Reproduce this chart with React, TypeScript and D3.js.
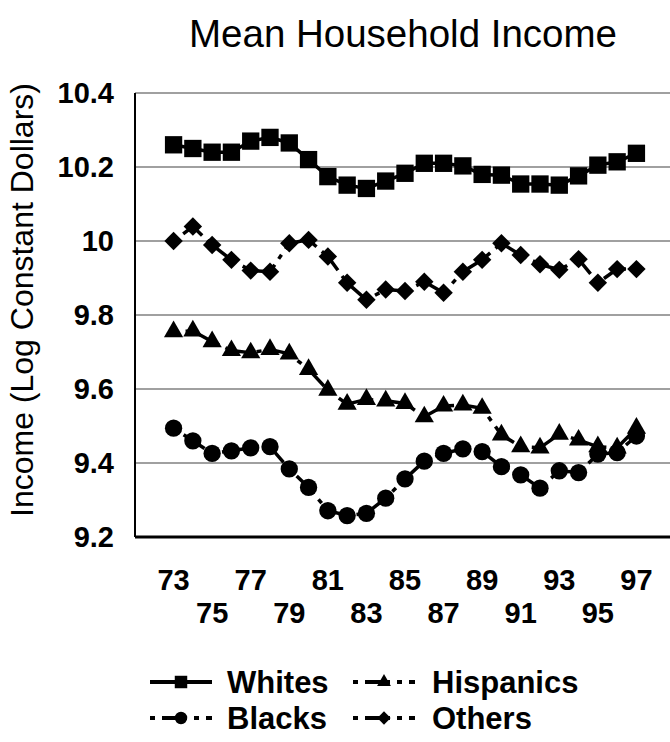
import * as d3 from 'd3';

// data
const years = [73, 74, 75, 76, 77, 78, 79, 80, 81, 82, 83, 84, 85, 86, 87, 88, 89, 90, 91, 92, 93, 94, 95, 96, 97];
const whites = [10.26, 10.25, 10.24, 10.24, 10.27, 10.28, 10.265, 10.22, 10.174, 10.151, 10.142, 10.162, 10.183, 10.21, 10.21, 10.203, 10.18, 10.178, 10.154, 10.154, 10.151, 10.176, 10.205, 10.214, 10.237];
const hispanics = [9.755, 9.757, 9.728, 9.704, 9.698, 9.707, 9.695, 9.653, 9.597, 9.559, 9.572, 9.568, 9.561, 9.525, 9.554, 9.557, 9.548, 9.476, 9.444, 9.441, 9.478, 9.462, 9.444, 9.441, 9.494];
const blacks = [9.494, 9.46, 9.426, 9.433, 9.441, 9.444, 9.384, 9.334, 9.271, 9.258, 9.264, 9.305, 9.357, 9.405, 9.426, 9.438, 9.431, 9.39, 9.368, 9.332, 9.379, 9.374, 9.424, 9.428, 9.473];
const others = [10.0, 10.039, 9.989, 9.949, 9.92, 9.917, 9.994, 10.003, 9.958, 9.887, 9.841, 9.869, 9.865, 9.89, 9.86, 9.917, 9.949, 9.994, 9.962, 9.937, 9.922, 9.951, 9.887, 9.924, 9.924];
const yTicks = [9.2, 9.4, 9.6, 9.8, 10, 10.2, 10.4];
const xTicks = [73, 75, 77, 79, 81, 83, 85, 87, 89, 91, 93, 95, 97];

const W = 670;
const H = 742;
const left = 135;
const top = 93;
const bottom = 537;

const x = d3.scaleLinear().domain([71, 99]).range([left, 675]);
const y = d3.scaleLinear().domain([9.2, 10.4]).range([bottom, top]);

const FONT = '"Liberation Sans", Arial, sans-serif';
const dash = '5,7,25,7';

type Shape = 'square' | 'triangle' | 'circle' | 'diamond';

const series: { name: string; values: number[]; shape: Shape; dashed: boolean }[] = [
  { name: 'Whites', values: whites, shape: 'square', dashed: false },
  { name: 'Hispanics', values: hispanics, shape: 'triangle', dashed: true },
  { name: 'Blacks', values: blacks, shape: 'circle', dashed: true },
  { name: 'Others', values: others, shape: 'diamond', dashed: true },
];

function markerPath(shape: Shape, scale = 1) {
  if (shape === 'square') return d3.symbol(d3.symbolSquare, 300 * scale * scale)()!;
  if (shape === 'circle') return d3.symbol(d3.symbolCircle, 235 * scale * scale)()!;
  if (shape === 'triangle') return d3.symbol(d3.symbolTriangle, 160 * scale * scale)()!;
  return d3.symbol(d3.symbolSquare, 170 * scale * scale)()!;
}

function Marker({ shape, cx, cy, scale = 1 }: { shape: Shape; cx: number; cy: number; scale?: number }) {
  const rot = shape === 'diamond' ? ' rotate(45)' : '';
  return <path d={markerPath(shape, scale)} transform={`translate(${cx},${cy})${rot}`} fill="#000" />;
}

const legendItems = [
  { s: 0, lx: 150, tx: 227, cy: 682 },
  { s: 1, lx: 353, tx: 432, cy: 682 },
  { s: 2, lx: 150, tx: 227, cy: 718 },
  { s: 3, lx: 353, tx: 432, cy: 718 },
];

export default function App() {
  const line = d3.line<number>().x((_, i) => x(years[i])).y(d => y(d));

  return (
    <svg width={W} height={H} style={{ position: 'absolute', left: 0, top: 0, background: '#fff' }} fontFamily={FONT}>
      <rect width={W} height={H} fill="#fff" />
      <text x={403} y={47} fontSize={38.5} textAnchor="middle" fill="#000">Mean Household Income</text>

      {/* gridlines */}
      {yTicks.filter(t => t > 9.2).map(t => (
        <line key={t} x1={left} x2={W} y1={y(t)} y2={y(t)} stroke="#808080" strokeWidth={1.5} />
      ))}
      <line x1={left} x2={left} y1={top} y2={bottom} stroke="#000" strokeWidth={2} />
      <line x1={left} x2={W} y1={bottom} y2={bottom} stroke="#000" strokeWidth={3} />

      {yTicks.map(t => (
        <text key={t} x={114} y={y(t)} dy="0.36em" fontSize={29} fontWeight="bold" textAnchor="end">{d3.format('')(t)}</text>
      ))}
      {xTicks.map((t, i) => (
        <text key={t} x={x(t)} y={i % 2 === 0 ? 590 : 623} fontSize={29} fontWeight="bold" textAnchor="middle">{t}</text>
      ))}

      <text transform="translate(33,300) rotate(-90)" fontSize={32} textAnchor="middle">Income (Log Constant Dollars)</text>

      {series.map(s => (
        <g key={s.name}>
          <path d={line(s.values)!} fill="none" stroke="#000" strokeWidth={3.5} strokeDasharray={s.dashed ? dash : undefined} />
          {s.values.map((v, i) => (
            <Marker key={i} shape={s.shape} cx={x(years[i])} cy={y(v)} />
          ))}
        </g>
      ))}

      {/* legend */}
      {legendItems.map(it => {
        const s = series[it.s];
        return (
          <g key={s.name}>
            <line x1={it.lx} x2={it.lx + 62} y1={it.cy} y2={it.cy} stroke="#000" strokeWidth={4} strokeDasharray={s.dashed ? dash : undefined} />
            <Marker shape={s.shape} cx={it.lx + 31} cy={it.cy} scale={0.72} />
            <text x={it.tx} y={it.cy} dy="0.36em" fontSize={31} fontWeight="bold">{s.name}</text>
          </g>
        );
      })}
    </svg>
  );
}
